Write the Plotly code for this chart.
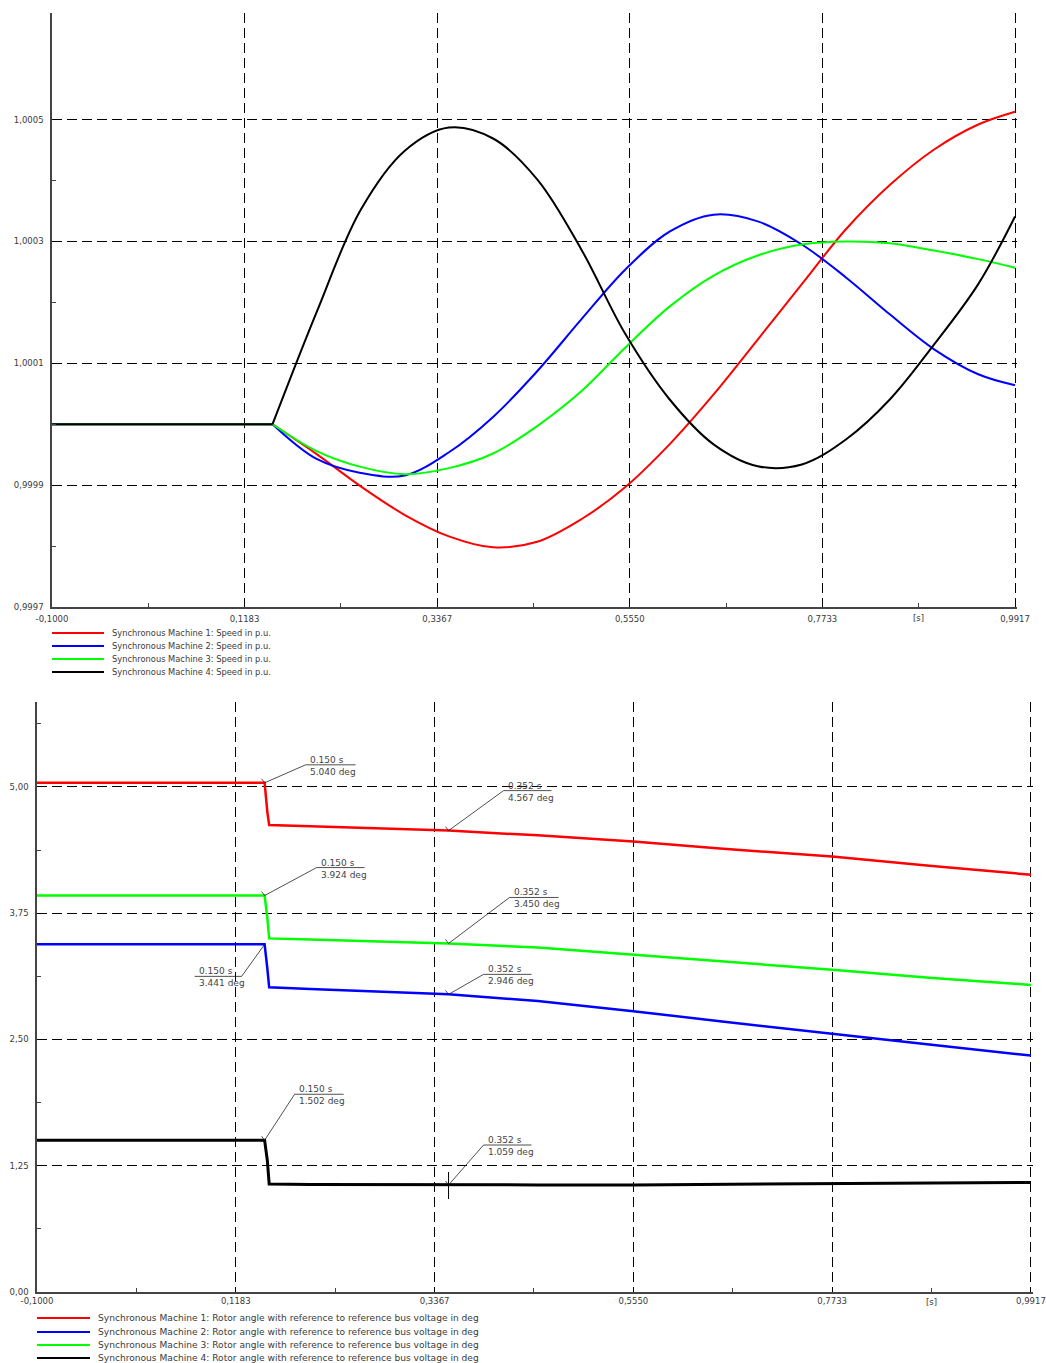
import plotly.graph_objects as go

# ---------------- data ----------------
# Top chart: speed in p.u.
t_speed = [-0.1, 0.15, 0.2, 0.25, 0.3, 0.35, 0.4, 0.45, 0.5, 0.55,
           0.6, 0.65, 0.7, 0.75, 0.8, 0.85, 0.9, 0.95, 0.9917]
speed_m1 = [1.000000, 1.000000, 0.999951, 0.999898, 0.999851, 0.999816,
            0.999798, 0.999807, 0.999844, 0.999897, 0.999967, 1.000049, 1.000139,
            1.000230, 1.000320, 1.000393, 1.000451, 1.000492, 1.000513]
speed_m2 = [1.000000, 1.000000, 0.999943, 0.999920, 0.999916, 0.999954,
            1.000012, 1.000087, 1.000172, 1.000254, 1.000316, 1.000344, 1.000333,
            1.000295, 1.000241, 1.000180, 1.000123, 1.000082, 1.000064]
speed_m3 = [1.000000, 1.000000, 0.999956, 0.999930, 0.999918, 0.999928,
            0.999952, 0.999997, 1.000054, 1.000126, 1.000193, 1.000244, 1.000277,
            1.000295, 1.000300, 1.000297, 1.000285, 1.000271, 1.000257]
speed_m4 = [1.000000, 1.000000, 1.000184, 1.000352, 1.000449, 1.000487,
            1.000469, 1.000402, 1.000287, 1.000148, 1.000041, 0.999967, 0.999931,
            0.999934, 0.999975, 1.000041, 1.000131, 1.000230, 1.000341]
fault_index = 1  # sample where the disturbance starts (t = 0.15 s)

# Bottom chart: rotor angle in deg
t_angle = [-0.1, 0.150, 0.153, 0.155, 0.2, 0.352, 0.45, 0.555, 0.65, 0.7733, 0.88, 0.9917]
angle_m1 = [5.040, 5.040, 4.75, 4.623, 4.610, 4.567, 4.52, 4.46, 4.39, 4.31, 4.22, 4.13]
angle_m2 = [3.441, 3.441, 3.20, 3.016, 3.000, 2.946, 2.88, 2.78, 2.68, 2.56, 2.45, 2.34]
angle_m3 = [3.924, 3.924, 3.70, 3.500, 3.490, 3.450, 3.41, 3.34, 3.27, 3.19, 3.11, 3.04]
angle_m4 = [1.502, 1.502, 1.30, 1.070, 1.065, 1.059, 1.060, 1.060, 1.065, 1.070, 1.080, 1.085]

# Callouts (time, value) per machine on the bottom chart
callout_t = [0.150, 0.352]
callout_m1 = [5.040, 4.567]
callout_m2 = [3.441, 2.946]
callout_m3 = [3.924, 3.450]
callout_m4 = [1.502, 1.059]

# Tick definitions
x_ticks = [-0.1, 0.1183, 0.3367, 0.5550, 0.7733, 0.9917]
x_tick_text = ["-0,1000", "0,1183", "0,3367", "0,5550", "0,7733", "0,9917"]
y1_ticks = [0.9997, 0.9999, 1.0001, 1.0003, 1.0005]
y1_tick_text = ["0,9997", "0,9999", "1,0001", "1,0003", "1,0005"]
y2_ticks = [0.0, 1.25, 2.50, 3.75, 5.00]
y2_tick_text = ["0,00", "1,25", "2,50", "3,75", "5,00"]

speed_names = ["Synchronous Machine 1: Speed in p.u.",
               "Synchronous Machine 2: Speed in p.u.",
               "Synchronous Machine 3: Speed in p.u.",
               "Synchronous Machine 4: Speed in p.u."]
angle_names = ["Synchronous Machine 1: Rotor angle with reference to reference bus voltage in deg",
               "Synchronous Machine 2: Rotor angle with reference to reference bus voltage in deg",
               "Synchronous Machine 3: Rotor angle with reference to reference bus voltage in deg",
               "Synchronous Machine 4: Rotor angle with reference to reference bus voltage in deg"]
colors = ["#ff0000", "#0000ff", "#00ff00", "#000000"]

# ---------------- style ----------------
W, H = 1046, 1363
FONT = "DejaVu Sans, Verdana, sans-serif"
AXIS_COL = "#444444"
TXT_COL = "#3a3a3a"
GRID_DASH = "10px,5px"
X_PAD = 0.002  # small range extension so the last grid line is drawn

def px_x(p):
    return p / W

def px_y(p):
    return 1 - p / H

fig = go.Figure()

speed_series = [speed_m1, speed_m2, speed_m3, speed_m4]
for name, ys, c in zip(speed_names, speed_series, colors):
    # steady state before the disturbance
    fig.add_trace(go.Scatter(x=t_speed[:fault_index + 1], y=ys[:fault_index + 1], name=name,
                             mode="lines", line=dict(color=c, width=2),
                             xaxis="x", yaxis="y", showlegend=False))
    # dynamic response
    fig.add_trace(go.Scatter(x=t_speed[fault_index:], y=ys[fault_index:], name=name,
                             mode="lines", line=dict(color=c, width=2, shape="spline", smoothing=1.0),
                             xaxis="x", yaxis="y", showlegend=False))

angle_series = [angle_m1, angle_m2, angle_m3, angle_m4]
angle_widths = [2.5, 2.5, 2.5, 3]
for name, ys, c, w in zip(angle_names, angle_series, colors, angle_widths):
    fig.add_trace(go.Scatter(x=t_angle, y=ys, name=name, mode="lines",
                             line=dict(color=c, width=w),
                             xaxis="x2", yaxis="y2", showlegend=False))

x_minor = [(a + b) / 2 for a, b in zip(x_ticks[:-1], x_ticks[1:])]
y1_minor = [(a + b) / 2 for a, b in zip(y1_ticks[:-1], y1_ticks[1:])]
y2_minor = [(a + b) / 2 for a, b in zip(y2_ticks[:-1], y2_ticks[1:])] + [y2_ticks[-1] + (y2_ticks[1] - y2_ticks[0]) / 2]

TICKFONT = dict(family=FONT, size=8.5, color=TXT_COL)

def xaxis_style(domain, anchor, standoff):
    return dict(domain=domain, anchor=anchor, range=[x_ticks[0], x_ticks[-1] + X_PAD],
                automargin=False,
                tickmode="array", tickvals=x_ticks, ticktext=x_tick_text,
                showline=True, linecolor=AXIS_COL, linewidth=1.5,
                showgrid=True, gridcolor="#000000", gridwidth=1, griddash=GRID_DASH,
                zeroline=False, ticks="", tickfont=TICKFONT, ticklabelstandoff=standoff,
                minor=dict(tickmode="array", tickvals=x_minor, ticks="inside",
                           ticklen=4, tickwidth=1, tickcolor=AXIS_COL, showgrid=False))

def yaxis_style(domain, anchor, rng, tv, tt, minor):
    return dict(domain=domain, anchor=anchor, range=rng, automargin=False,
                tickmode="array", tickvals=tv, ticktext=tt,
                showline=True, linecolor=AXIS_COL, linewidth=1.5,
                showgrid=True, gridcolor="#000000", gridwidth=1, griddash=GRID_DASH,
                zeroline=False, ticks="", tickfont=TICKFONT, ticklabelstandoff=5,
                minor=dict(tickmode="array", tickvals=minor, ticks="inside",
                           ticklen=4, tickwidth=1, tickcolor=AXIS_COL, showgrid=False))

top_x_dom = [px_x(52), px_x(1016.8)]
top_y_dom = [px_y(607), px_y(13)]
bot_x_dom = [px_x(37), px_x(1032.8)]
bot_y_dom = [px_y(1292), px_y(702)]

fig.update_layout(
    width=W, height=H,
    margin=dict(l=0, r=0, t=0, b=0),
    paper_bgcolor="white", plot_bgcolor="white",
    showlegend=False,
    font=dict(family=FONT, size=9, color=TXT_COL),
    xaxis=xaxis_style(top_x_dom, "y", 3),
    yaxis=yaxis_style(top_y_dom, "x", [y1_ticks[0], 1.000675], y1_ticks, y1_tick_text, y1_minor),
    xaxis2=xaxis_style(bot_x_dom, "y2", 0),
    yaxis2=yaxis_style(bot_y_dom, "x2", [0, 5.84], y2_ticks, y2_tick_text, y2_minor),
)

shapes = []
annotations = []

# "[s]" unit labels
unit_x = (x_ticks[-2] + x_ticks[-1]) / 2
annotations.append(dict(x=unit_x, xref="x", y=px_y(618), yref="paper", yanchor="middle",
                        text="[s]", showarrow=False, font=TICKFONT))
annotations.append(dict(x=unit_x, xref="x2", y=px_y(1302), yref="paper", yanchor="middle",
                        text="[s]", showarrow=False, font=TICKFONT))

# Callouts: (dx, dy up, horizontal length) in pixels
callout_style = [
    [(41, 18, 50), (55, 40, 48)],     # machine 1
    [(-23, -32, -47), (35, 20, 48)],  # machine 2
    [(52, 28, 48), (61, 46, 49)],     # machine 3
    [(30, 46, 49), (35, 40, 48)],     # machine 4
]
callout_vals = [callout_m1, callout_m2, callout_m3, callout_m4]
for mi, vals in enumerate(callout_vals):
    for ci, (t, v) in enumerate(zip(callout_t, vals)):
        dx, dy, ln = callout_style[mi][ci]
        if dx > 0:
            path = "M-3,4 L0,0 L%d,%d L%d,%d" % (dx, dy, dx + ln, dy)
        else:
            path = "M0,0 L%d,%d L%d,%d" % (dx, dy, dx + ln, dy)
        shapes.append(dict(type="path", xref="x2", yref="y2", xsizemode="pixel", ysizemode="pixel",
                           xanchor=t, yanchor=v, path=path,
                           line=dict(color="#222222", width=0.8)))
        if mi == 3 and ci == 1:
            shapes.append(dict(type="path", xref="x2", yref="y2", xsizemode="pixel", ysizemode="pixel",
                               xanchor=t, yanchor=v, path="M0,13 L0,-14",
                               line=dict(color="#000000", width=1)))
        tx = dx + 2 if ln > 0 else dx + ln + 2
        annotations.append(dict(x=t, y=v, xref="x2", yref="y2", showarrow=False,
                                xanchor="left", yanchor="middle", align="left",
                                xshift=tx, yshift=dy - 1,
                                text=f"{t:.3f} s<br>{v:.3f} deg",
                                font=dict(family=FONT, size=9, color="#444444")))

# Manual legends
top_rows = [633, 646, 659, 672]
for name, c, r in zip(speed_names, colors, top_rows):
    shapes.append(dict(type="line", xref="paper", yref="paper",
                       x0=px_x(52), x1=px_x(104), y0=px_y(r), y1=px_y(r),
                       line=dict(color=c, width=2)))
    annotations.append(dict(x=px_x(110), y=px_y(r), xref="paper", yref="paper",
                            xanchor="left", yanchor="middle", showarrow=False, text=name,
                            font=dict(family=FONT, size=8.3, color=TXT_COL)))
bot_rows = [1318, 1332, 1345, 1358]
for name, c, r in zip(angle_names, colors, bot_rows):
    shapes.append(dict(type="line", xref="paper", yref="paper",
                       x0=px_x(37), x1=px_x(90), y0=px_y(r), y1=px_y(r),
                       line=dict(color=c, width=2)))
    annotations.append(dict(x=px_x(96), y=px_y(r), xref="paper", yref="paper",
                            xanchor="left", yanchor="middle", showarrow=False, text=name,
                            font=dict(family=FONT, size=9.1, color=TXT_COL)))

fig.update_layout(shapes=shapes, annotations=annotations)

fig.write_html("out.html", config={"displayModeBar": False},
               post_script="document.body.style.margin='0';document.body.style.overflow='hidden';")
